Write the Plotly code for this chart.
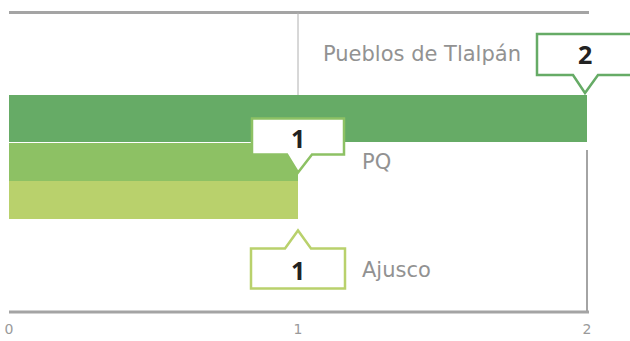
import plotly.graph_objects as go

# Data
categories = ["Pueblos de Tlalpán", "PQ", "Ajusco"]
values = [2, 1, 1]
tick_values = [0, 1, 2]
tick_labels = ["0", "1", "2"]

# Styling
bar_colors = ["#66ab66", "#8dc164", "#b9d16c"]
label_gray = "#929292"
rule_gray = "#a4a4a4"
light_font = "DejaVu Sans"

W, H = 630, 341
M_L, M_R, M_T, M_B = 0, 0, 0, 22
plot_w = W - M_L - M_R
plot_h = H - M_T - M_B

# x scale: value 0 sits 9px in, value 2 sits at 587px
x0_px, x2_px = 9, 587
ppu_x = (x2_px - x0_px) / 2
x_range = [-(x0_px) / ppu_x, 2 + (plot_w - x2_px) / ppu_x]

# y scale: one band = 38px, band 1 centred at 161.5px, reversed
band_px = 38.0
band1_px = 161.5
y_range = [1 + (plot_h - band1_px) / band_px, 1 - band1_px / band_px]

# bar bands (centre, thickness) in band units; the first bar is thicker
bar_pos = [1 + (118.5 - band1_px) / band_px, 1, 2]
bar_width = [47 / band_px, 1.0, 1.0]


def ypaper(px):
    return 1 - px / plot_h


def edge(i, side):
    # band edge in data units (reversed axis: 'top' is the smaller value)
    return bar_pos[i] - bar_width[i] / 2 if side == "top" else bar_pos[i] + bar_width[i] / 2


fig = go.Figure()
fig.add_trace(go.Bar(
    x=values, y=bar_pos, width=bar_width, orientation="h",
    marker=dict(color=bar_colors, line=dict(width=0)),
    hoverinfo="skip",
))

shapes = []
# top and bottom rules
for py in (12.5, 312):
    shapes.append(dict(type="line", xref="x", yref="paper",
                       x0=0, x1=2 + 2 / ppu_x, y0=ypaper(py), y1=ypaper(py),
                       line=dict(color=rule_gray, width=3), layer="below"))
# vertical guide at 1 (above the bars) and at 2 (below the bars)
shapes.append(dict(type="line", xref="x", yref="paper", x0=1, x1=1,
                   y0=ypaper(12.5), y1=ypaper(95),
                   line=dict(color="#b0b0b0", width=1), layer="below"))
shapes.append(dict(type="line", xref="x", yref="paper", x0=2, x1=2,
                   y0=ypaper(150), y1=ypaper(312),
                   line=dict(color=rule_gray, width=2), layer="below"))

# callouts: (bar index, anchor edge, path in px relative to anchor, y up)
callouts = [
    (0, "top", "M -50,61 L 48,61 L 48,20 L 11,20 L -2,2 L -14,20 L -50,20 Z"),
    (1, "bottom", "M -46,62 L 46,62 L 46,26 L 14,26 L 0,8 L -11,26 L -46,26 Z"),
    (2, "bottom", "M -47,-30 L -13,-30 L 0,-12 L 13,-30 L 47,-30 L 47,-70 L -47,-70 Z"),
]
for i, side, path in callouts:
    shapes.append(dict(type="path", xref="x", yref="y",
                       xsizemode="pixel", ysizemode="pixel",
                       xanchor=values[i], yanchor=edge(i, side),
                       path=path, fillcolor="white",
                       line=dict(color=bar_colors[i], width=2.5), layer="above"))

annotations = []
# value numbers inside the callouts: (index, edge, xshift, yshift)
num_pos = [(0, "top", -2, 41), (1, "bottom", 0, 43), (2, "bottom", 0, -51)]
for i, side, dx, dy in num_pos:
    annotations.append(dict(x=values[i], y=edge(i, side), xref="x", yref="y",
                            text=f"<b>{values[i]}</b>", showarrow=False,
                            xshift=dx, yshift=dy,
                            font=dict(family="Open Sans", size=25, color="#222222")))
# category names beside the callouts
name_pos = [(0, "top", -64, 41, "right"), (1, "bottom", 62, 19, "left"),
            (2, "bottom", 62, -51, "left")]
for i, side, dx, dy, anchor in name_pos:
    annotations.append(dict(x=values[i], y=edge(i, side), xref="x", yref="y",
                            text=categories[i], showarrow=False,
                            xanchor=anchor, xshift=dx, yshift=dy,
                            font=dict(family=light_font, size=21, color=label_gray)))

fig.update_layout(
    width=W, height=H,
    margin=dict(l=M_L, r=M_R, t=M_T, b=M_B, pad=0, autoexpand=False),
    paper_bgcolor="white", plot_bgcolor="white",
    showlegend=False, bargap=0,
    xaxis=dict(range=x_range, tickvals=tick_values, ticktext=tick_labels,
               showgrid=False, zeroline=False, showline=False, automargin=False,
               ticks="", ticklen=0,
               tickfont=dict(family=light_font, size=14, color="#9a9a9a"),
               fixedrange=True),
    yaxis=dict(range=y_range, visible=False, fixedrange=True, automargin=False),
    shapes=shapes, annotations=annotations,
)

fig.write_html("out.html")
